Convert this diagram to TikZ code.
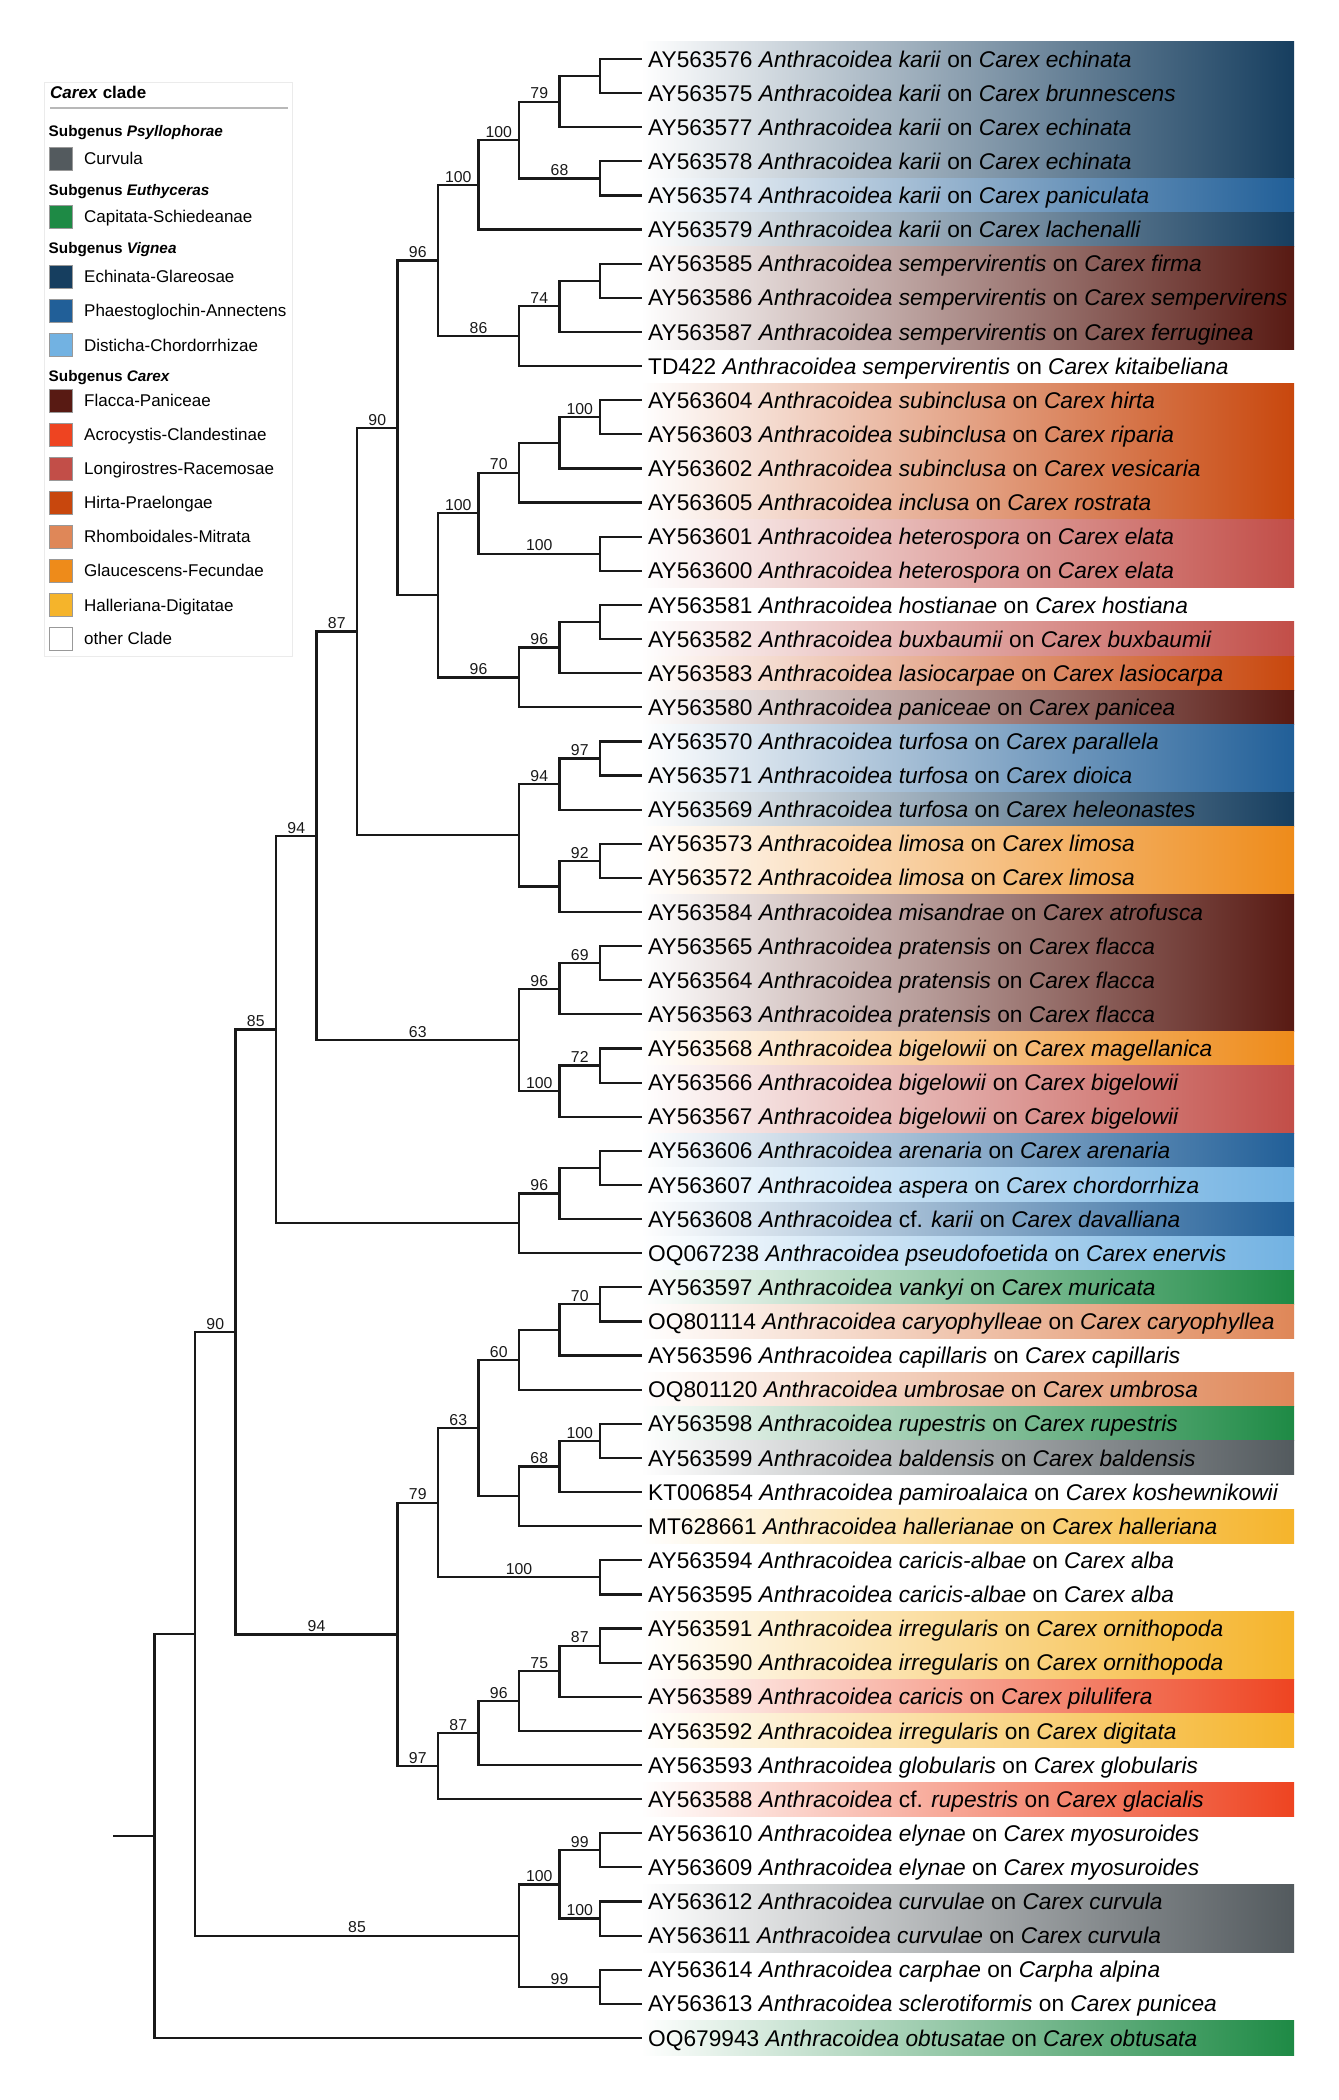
\documentclass[tikz,border=0pt]{standalone}
\usepackage{fontspec}
\setmainfont{Liberation Sans}
\usetikzlibrary{calc}
\definecolor{cCU}{HTML}{535A5E}
\definecolor{cCS}{HTML}{1E8A45}
\definecolor{cEG}{HTML}{163E5F}
\definecolor{cPA}{HTML}{215F98}
\definecolor{cDC}{HTML}{72B2E2}
\definecolor{cFP}{HTML}{581A13}
\definecolor{cAC}{HTML}{EE4421}
\definecolor{cLR}{HTML}{C24E48}
\definecolor{cHP}{HTML}{C8470D}
\definecolor{cRM}{HTML}{DF8758}
\definecolor{cGF}{HTML}{EE8B1A}
\definecolor{cHD}{HTML}{F5B42B}
\newcommand\clade[4]{%
  \coordinate (#1m) at ($(#3)!0.5!(#4)$);
  \coordinate (#1) at (#1m -| L#2);
  \draw[branch] (#3) -| (#1) |- (#4);}
\newcommand\boot[3]{\path (#1 |- #2) -- node[bslab]{#3} (#2);}
\newcommand\mytip[4]{\node[tiplab] (lab#1) at (t#1) {#2 \textit{Anthracoidea} #3 on \textit{#4}};}
\newcommand\myband[3]{\shade[left color=white,right color=#3] (641,{59+(#1-1)*34.12-17.06}) rectangle (1294,{59+(#2-1)*34.12+17.06});}
\newcommand\myleg[4]{\draw[legsq,fill=#3] (49.5,{#2-11.5}) rectangle (72.5,{#2+11.5}); \node[legtxt] (#1) at (84,{#2+6}) {#4};}
\begin{document}
\begin{tikzpicture}[x=1pt,y=-1pt,
  branch/.style={line width=2.2pt,draw=black!90,line cap=rect},
  bslab/.style={above,inner sep=2.4pt,font=\fontsize{15.8}{18}\selectfont,text=black!90},
  tiplab/.style={anchor=base west,inner sep=0pt,xshift=7.5pt,yshift=-8.1pt,font=\fontsize{22.7}{26}\selectfont},
  legsq/.style={draw=black!40,line width=0.8pt},
  legtxt/.style={anchor=base west,inner sep=0pt,font=\fontsize{17}{20}\selectfont},
  leghead/.style={anchor=base west,inner sep=0pt,font=\fontsize{15.3}{18}\selectfont\bfseries}]
\useasboundingbox (0,0) rectangle (1338,2100);
\fill[white] (0,0) rectangle (1338,2100);
\foreach \i in {0,...,13} \coordinate (L\i) at ({114+\i*40.5},0);
\foreach \i in {1,...,59} \coordinate (t\i) at (640.5,{59+(\i-1)*34.12});
% colour bands
\myband{1}{4}{cEG}
\myband{5}{5}{cPA}
\myband{6}{6}{cEG}
\myband{7}{9}{cFP}
\myband{11}{14}{cHP}
\myband{15}{16}{cLR}
\myband{18}{18}{cLR}
\myband{19}{19}{cHP}
\myband{20}{20}{cFP}
\myband{21}{22}{cPA}
\myband{23}{23}{cEG}
\myband{24}{25}{cGF}
\myband{26}{29}{cFP}
\myband{30}{30}{cGF}
\myband{31}{32}{cLR}
\myband{33}{33}{cPA}
\myband{34}{34}{cDC}
\myband{35}{35}{cPA}
\myband{36}{36}{cDC}
\myband{37}{37}{cCS}
\myband{38}{38}{cRM}
\myband{40}{40}{cRM}
\myband{41}{41}{cCS}
\myband{42}{42}{cCU}
\myband{44}{44}{cHD}
\myband{47}{48}{cHD}
\myband{49}{49}{cAC}
\myband{50}{50}{cHD}
\myband{52}{52}{cAC}
\myband{55}{56}{cCU}
\myband{59}{59}{cCS}
% tree
\clade{c12a}{12}{t1}{t2}
\clade{c11a}{11}{c12a}{t3}
\clade{c12b}{12}{t4}{t5}
\clade{c10a}{10}{c11a}{c12b}
\clade{c9a}{9}{c10a}{t6}
\clade{c12c}{12}{t7}{t8}
\clade{c11c}{11}{c12c}{t9}
\clade{c10c}{10}{c11c}{t10}
\clade{c8a}{8}{c9a}{c10c}
\clade{c12d}{12}{t11}{t12}
\clade{c11d}{11}{c12d}{t13}
\clade{c10d}{10}{c11d}{t14}
\clade{c12e}{12}{t15}{t16}
\clade{c9d}{9}{c10d}{c12e}
\clade{c12f}{12}{t17}{t18}
\clade{c11f}{11}{c12f}{t19}
\clade{c10f}{10}{c11f}{t20}
\clade{c8d}{8}{c9d}{c10f}
\clade{c7}{7}{c8a}{c8d}
\clade{c12g}{12}{t21}{t22}
\clade{c11g}{11}{c12g}{t23}
\clade{c12h}{12}{t24}{t25}
\clade{c11h}{11}{c12h}{t26}
\clade{c10g}{10}{c11g}{c11h}
\clade{c6}{6}{c7}{c10g}
\clade{c12i}{12}{t27}{t28}
\clade{c11i}{11}{c12i}{t29}
\clade{c12j}{12}{t30}{t31}
\clade{c11j}{11}{c12j}{t32}
\clade{c10i}{10}{c11i}{c11j}
\clade{c5}{5}{c6}{c10i}
\clade{c12k}{12}{t33}{t34}
\clade{c11k}{11}{c12k}{t35}
\clade{c10k}{10}{c11k}{t36}
\clade{c4}{4}{c5}{c10k}
\clade{c12l}{12}{t37}{t38}
\clade{c11l}{11}{c12l}{t39}
\clade{c10l}{10}{c11l}{t40}
\clade{c12m}{12}{t41}{t42}
\clade{c11m}{11}{c12m}{t43}
\clade{c10m}{10}{c11m}{t44}
\clade{c9l}{9}{c10l}{c10m}
\clade{c12n}{12}{t45}{t46}
\clade{c8l}{8}{c9l}{c12n}
\clade{c12o}{12}{t47}{t48}
\clade{c11o}{11}{c12o}{t49}
\clade{c10o}{10}{c11o}{t50}
\clade{c9o}{9}{c10o}{t51}
\clade{c8o}{8}{c9o}{t52}
\clade{c7l}{7}{c8l}{c8o}
\clade{c3}{3}{c4}{c7l}
\clade{c12p}{12}{t53}{t54}
\clade{c12q}{12}{t55}{t56}
\clade{c11p}{11}{c12p}{c12q}
\clade{c12r}{12}{t57}{t58}
\clade{c10p}{10}{c11p}{c12r}
\clade{c2}{2}{c3}{c10p}
\clade{c1}{1}{c2}{t59}
\coordinate (root) at (c1 -| L0);
\draw[branch] (root) -- (c1);
% bootstrap values
\boot{c10a}{c11a}{79}
\boot{c10a}{c12b}{68}
\boot{c9a}{c10a}{100}
\boot{c10c}{c11c}{74}
\boot{c8a}{c9a}{100}
\boot{c8a}{c10c}{86}
\boot{c11d}{c12d}{100}
\boot{c9d}{c10d}{70}
\boot{c9d}{c12e}{100}
\boot{c10f}{c11f}{96}
\boot{c8d}{c9d}{100}
\boot{c8d}{c10f}{96}
\boot{c7}{c8a}{96}
\boot{c11g}{c12g}{97}
\boot{c11h}{c12h}{92}
\boot{c10g}{c11g}{94}
\boot{c6}{c7}{90}
\boot{c11i}{c12i}{69}
\boot{c11j}{c12j}{72}
\boot{c10i}{c11i}{96}
\boot{c10i}{c11j}{100}
\boot{c5}{c6}{87}
\boot{c5}{c10i}{63}
\boot{c10k}{c11k}{96}
\boot{c4}{c5}{94}
\boot{c11l}{c12l}{70}
\boot{c11m}{c12m}{100}
\boot{c10m}{c11m}{68}
\boot{c9l}{c10l}{60}
\boot{c8l}{c9l}{63}
\boot{c8l}{c12n}{100}
\boot{c11o}{c12o}{87}
\boot{c10o}{c11o}{75}
\boot{c9o}{c10o}{96}
\boot{c8o}{c9o}{87}
\boot{c7l}{c8l}{79}
\boot{c7l}{c8o}{97}
\boot{c3}{c4}{85}
\boot{c3}{c7l}{94}
\boot{c11p}{c12p}{99}
\boot{c11p}{c12q}{100}
\boot{c10p}{c11p}{100}
\boot{c10p}{c12r}{99}
\boot{c2}{c3}{90}
\boot{c2}{c10p}{85}
% tip labels
\mytip{1}{AY563576}{\textit{karii}}{Carex echinata}
\mytip{2}{AY563575}{\textit{karii}}{Carex brunnescens}
\mytip{3}{AY563577}{\textit{karii}}{Carex echinata}
\mytip{4}{AY563578}{\textit{karii}}{Carex echinata}
\mytip{5}{AY563574}{\textit{karii}}{Carex paniculata}
\mytip{6}{AY563579}{\textit{karii}}{Carex lachenalli}
\mytip{7}{AY563585}{\textit{sempervirentis}}{Carex firma}
\mytip{8}{AY563586}{\textit{sempervirentis}}{Carex sempervirens}
\mytip{9}{AY563587}{\textit{sempervirentis}}{Carex ferruginea}
\mytip{10}{TD422}{\textit{sempervirentis}}{Carex kitaibeliana}
\mytip{11}{AY563604}{\textit{subinclusa}}{Carex hirta}
\mytip{12}{AY563603}{\textit{subinclusa}}{Carex riparia}
\mytip{13}{AY563602}{\textit{subinclusa}}{Carex vesicaria}
\mytip{14}{AY563605}{\textit{inclusa}}{Carex rostrata}
\mytip{15}{AY563601}{\textit{heterospora}}{Carex elata}
\mytip{16}{AY563600}{\textit{heterospora}}{Carex elata}
\mytip{17}{AY563581}{\textit{hostianae}}{Carex hostiana}
\mytip{18}{AY563582}{\textit{buxbaumii}}{Carex buxbaumii}
\mytip{19}{AY563583}{\textit{lasiocarpae}}{Carex lasiocarpa}
\mytip{20}{AY563580}{\textit{paniceae}}{Carex panicea}
\mytip{21}{AY563570}{\textit{turfosa}}{Carex parallela}
\mytip{22}{AY563571}{\textit{turfosa}}{Carex dioica}
\mytip{23}{AY563569}{\textit{turfosa}}{Carex heleonastes}
\mytip{24}{AY563573}{\textit{limosa}}{Carex limosa}
\mytip{25}{AY563572}{\textit{limosa}}{Carex limosa}
\mytip{26}{AY563584}{\textit{misandrae}}{Carex atrofusca}
\mytip{27}{AY563565}{\textit{pratensis}}{Carex flacca}
\mytip{28}{AY563564}{\textit{pratensis}}{Carex flacca}
\mytip{29}{AY563563}{\textit{pratensis}}{Carex flacca}
\mytip{30}{AY563568}{\textit{bigelowii}}{Carex magellanica}
\mytip{31}{AY563566}{\textit{bigelowii}}{Carex bigelowii}
\mytip{32}{AY563567}{\textit{bigelowii}}{Carex bigelowii}
\mytip{33}{AY563606}{\textit{arenaria}}{Carex arenaria}
\mytip{34}{AY563607}{\textit{aspera}}{Carex chordorrhiza}
\mytip{35}{AY563608}{cf. \textit{karii}}{Carex davalliana}
\mytip{36}{OQ067238}{\textit{pseudofoetida}}{Carex enervis}
\mytip{37}{AY563597}{\textit{vankyi}}{Carex muricata}
\mytip{38}{OQ801114}{\textit{caryophylleae}}{Carex caryophyllea}
\mytip{39}{AY563596}{\textit{capillaris}}{Carex capillaris}
\mytip{40}{OQ801120}{\textit{umbrosae}}{Carex umbrosa}
\mytip{41}{AY563598}{\textit{rupestris}}{Carex rupestris}
\mytip{42}{AY563599}{\textit{baldensis}}{Carex baldensis}
\mytip{43}{KT006854}{\textit{pamiroalaica}}{Carex koshewnikowii}
\mytip{44}{MT628661}{\textit{hallerianae}}{Carex halleriana}
\mytip{45}{AY563594}{\textit{caricis-albae}}{Carex alba}
\mytip{46}{AY563595}{\textit{caricis-albae}}{Carex alba}
\mytip{47}{AY563591}{\textit{irregularis}}{Carex ornithopoda}
\mytip{48}{AY563590}{\textit{irregularis}}{Carex ornithopoda}
\mytip{49}{AY563589}{\textit{caricis}}{Carex pilulifera}
\mytip{50}{AY563592}{\textit{irregularis}}{Carex digitata}
\mytip{51}{AY563593}{\textit{globularis}}{Carex globularis}
\mytip{52}{AY563588}{cf. \textit{rupestris}}{Carex glacialis}
\mytip{53}{AY563610}{\textit{elynae}}{Carex myosuroides}
\mytip{54}{AY563609}{\textit{elynae}}{Carex myosuroides}
\mytip{55}{AY563612}{\textit{curvulae}}{Carex curvula}
\mytip{56}{AY563611}{\textit{curvulae}}{Carex curvula}
\mytip{57}{AY563614}{\textit{carphae}}{Carpha alpina}
\mytip{58}{AY563613}{\textit{sclerotiformis}}{Carex punicea}
\mytip{59}{OQ679943}{\textit{obtusatae}}{Carex obtusata}
% legend
\draw[draw=black!8,fill=white,line width=0.8pt] (44,82) rectangle (292,656);
\node[anchor=base west,inner sep=0pt,font=\fontsize{17}{20}\selectfont\bfseries] (legtitle) at (50,99) {\textit{Carex} clade};
\draw[black!28,line width=1.5pt] (50,108) -- (288,108);
\node[leghead] (hPsy) at (48.5,136.5) {Subgenus \textit{Psyllophorae}};
\myleg{lCU}{158.5}{cCU}{Curvula}
\node[leghead] (hEut) at (48.5,195.5) {Subgenus \textit{Euthyceras}};
\myleg{lCS}{217}{cCS}{Capitata-Schiedeanae}
\node[leghead] (hVig) at (48.5,253.5) {Subgenus \textit{Vignea}};
\myleg{lEG}{276.5}{cEG}{Echinata-Glareosae}
\myleg{lPA}{310.7}{cPA}{Phaestoglochin-Annectens}
\myleg{lDC}{345}{cDC}{Disticha-Chordorrhizae}
\node[leghead] (hCar) at (48.5,381.5) {Subgenus \textit{Carex}};
\myleg{lFP}{400.7}{cFP}{Flacca-Paniceae}
\myleg{lAC}{434.7}{cAC}{Acrocystis-Clandestinae}
\myleg{lLR}{468.7}{cLR}{Longirostres-Racemosae}
\myleg{lHP}{502.7}{cHP}{Hirta-Praelongae}
\myleg{lRM}{536.7}{cRM}{Rhomboidales-Mitrata}
\myleg{lGF}{570.7}{cGF}{Glaucescens-Fecundae}
\myleg{lHD}{605}{cHD}{Halleriana-Digitatae}
\myleg{lOC}{638.8}{white}{other Clade}
\end{tikzpicture}
\end{document}
